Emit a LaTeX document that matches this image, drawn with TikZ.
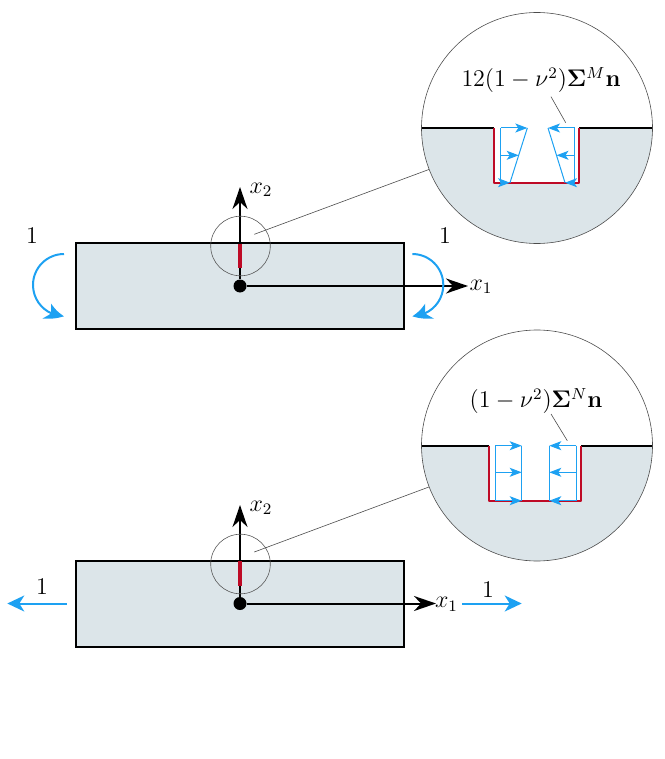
\documentclass[tikz,border=0pt]{standalone}
\usetikzlibrary{arrows.meta,bending}
\usepackage{amsmath}
\usepackage{amssymb}

\definecolor{platefill}{HTML}{DCE5E9}
\definecolor{loadblue}{HTML}{1DA1F2}
\definecolor{crackred}{HTML}{BE0A26}

\tikzset{
	every node/.style={font=\fontsize{11.6}{14}\selectfont},
	plate/.style={draw=black,fill=platefill,line width=1pt,minimum width=164pt,minimum height=43pt,inner sep=0},
	origin/.style={circle,fill=black,minimum size=6.5pt,inner sep=0},
	axis/.style={line width=1pt,-{Stealth[length=11pt,width=7.5pt,inset=3.5pt]}},
	crack/.style={color=crackred,line width=1.7pt},
	lens/.style={circle,draw=black!65,line width=0.3pt,minimum size=29.8pt,inner sep=0},
	zoomlens/.style={circle,draw=black!70,line width=0.3pt,minimum size=115.5pt,inner sep=0},
	leader/.style={color=black!70,line width=0.3pt},
	moment/.style={color=loadblue,line width=1pt,-{Stealth[length=9pt,width=8.5pt,inset=2.5pt,bend]}},
	load/.style={color=loadblue,line width=1pt,-{Stealth[length=8.5pt,width=8pt,inset=2.5pt]}},
	traction/.style={color=loadblue,line width=0.5pt,-{Stealth[length=6pt,width=4.5pt,inset=1.5pt]}},
	tractionline/.style={color=loadblue,line width=0.5pt},
	surface/.style={line width=1pt},
	notch/.style={color=crackred,line width=1pt,line join=round}
}

\begin{document}
\begin{tikzpicture}[x=0.5pt,y=-0.5pt]
	\useasboundingbox (0,0) rectangle (664,759);

	% upper plate, bending
	\node[plate] (plateM) at (240,286) {};
	\node[origin] (originM) at (240,286) {};
	\coordinate (x1M) at (468,286);
	\coordinate (x2M) at (240,187);
	\coordinate (cracktopM) at (240,243.5);
	\coordinate (crackendM) at (240,268);
	\node (x1labelM) at (481,287) {$x_1$};
	\node (x2labelM) at (261,190) {$x_2$};

	\draw[axis] (originM) -- (x1M);
	\draw[axis] (originM) -- (x2M);
	\draw[crack] (cracktopM) -- (crackendM);
	\node[lens] (lensM) at (240.5,246) {};

	\coordinate (momentleft) at (64,254);
	\coordinate (momentright) at (412.3,254);
	\draw[moment] (momentleft) arc[start angle=-90,end angle=-270,radius=31];
	\draw[moment] (momentright) arc[start angle=-90,end angle=90,radius=31];
	\node (oneleftM) at (32,236) {$1$};
	\node (onerightM) at (445,236) {$1$};

	% zoom on the upper crack
	\begin{scope}
		\clip (537,128) circle (115.5);
		\fill[platefill] (421,128) -- (494.3,128) -- (494.3,182.7) -- (579,182.7) -- (579,128) -- (653,128) -- (653,244) -- (421,244) -- cycle;
		\draw[surface] (421,128) -- (494.3,128);
		\draw[surface] (579,128) -- (653,128);
	\end{scope}
	\draw[notch] (494.3,128) -- (494.3,182.7) -- (579,182.7) -- (579,128);

	\draw[tractionline] (500.7,128) -- (500.7,182.7);
	\draw[tractionline] (527.3,128) -- (510,182.7);
	\draw[tractionline] (574.7,128) -- (574.7,182.7);
	\draw[tractionline] (548,128) -- (565,182.7);
	\foreach \y/\xl/\xr in {128/527.3/548, 155.3/518.7/556.5, 182.7/510/565}
	{
		\draw[traction] (500.7,\y) -- (\xl,\y);
		\draw[traction] (574.7,\y) -- (\xr,\y);
	}
	\node[zoomlens] (zoomM) at (537,128) {};

	\node (formulaM) at (541,80) {$12(1-\nu^2)\mathbf{\Sigma}^{M}\mathbf{n}$};
	\coordinate (leaderaM) at (551,96.7);
	\coordinate (leaderbM) at (565.7,122.7);
	\draw[leader] (leaderaM) -- (leaderbM);
	\coordinate (lensfootM) at (254.3,234.3);
	\draw[leader] (lensfootM) -- (zoomM.201.6);

	% lower plate, membrane
	\node[plate] (plateN) at (240,603.5) {};
	\node[origin] (originN) at (240,603.5) {};
	\coordinate (x1N) at (436,603.5);
	\coordinate (x2N) at (240,505);
	\coordinate (cracktopN) at (240,561);
	\coordinate (crackendN) at (240,586);
	\node (x1labelN) at (446.5,604.5) {$x_1$};
	\node (x2labelN) at (261,508) {$x_2$};

	\draw[axis] (originN) -- (x1N);
	\draw[axis] (originN) -- (x2N);
	\draw[crack] (cracktopN) -- (crackendN);
	\node[lens] (lensN) at (240.5,564) {};

	\coordinate (loadleftstart) at (66.7,603.5);
	\coordinate (loadleftend) at (7.3,603.5);
	\coordinate (loadrightstart) at (462.3,603.5);
	\coordinate (loadrightend) at (521.7,603.5);
	\draw[load] (loadleftstart) -- (loadleftend);
	\draw[load] (loadrightstart) -- (loadrightend);
	\node (oneleftN) at (42,587) {$1$};
	\node (onerightN) at (488,590) {$1$};

	% zoom on the lower crack
	\begin{scope}
		\clip (537,445.5) circle (115.5);
		\fill[platefill] (421,445.7) -- (489,445.7) -- (489,500.7) -- (581,500.7) -- (581,445.7) -- (653,445.7) -- (653,562) -- (421,562) -- cycle;
		\draw[surface] (421,445.7) -- (489,445.7);
		\draw[surface] (581,445.7) -- (653,445.7);
	\end{scope}
	\draw[notch] (489,445.7) -- (489,500.7) -- (581,500.7) -- (581,445.7);

	\foreach \x in {495,521.7,549.3,576.3}
	\draw[tractionline] (\x,445.7) -- (\x,500.7);
	\foreach \y in {445.7,472.3,500.7}
	{
		\draw[traction] (495,\y) -- (521.7,\y);
		\draw[traction] (576.3,\y) -- (549.3,\y);
	}
	\node[zoomlens] (zoomN) at (537,445.5) {};

	\node (formulaN) at (536,401) {$(1-\nu^2)\mathbf{\Sigma}^{N}\mathbf{n}$};
	\coordinate (leaderaN) at (551,414);
	\coordinate (leaderbN) at (567.3,440.7);
	\draw[leader] (leaderaN) -- (leaderbN);
	\coordinate (lensfootN) at (254.3,552);
	\draw[leader] (lensfootN) -- (zoomN.201.6);
\end{tikzpicture}
\end{document}
